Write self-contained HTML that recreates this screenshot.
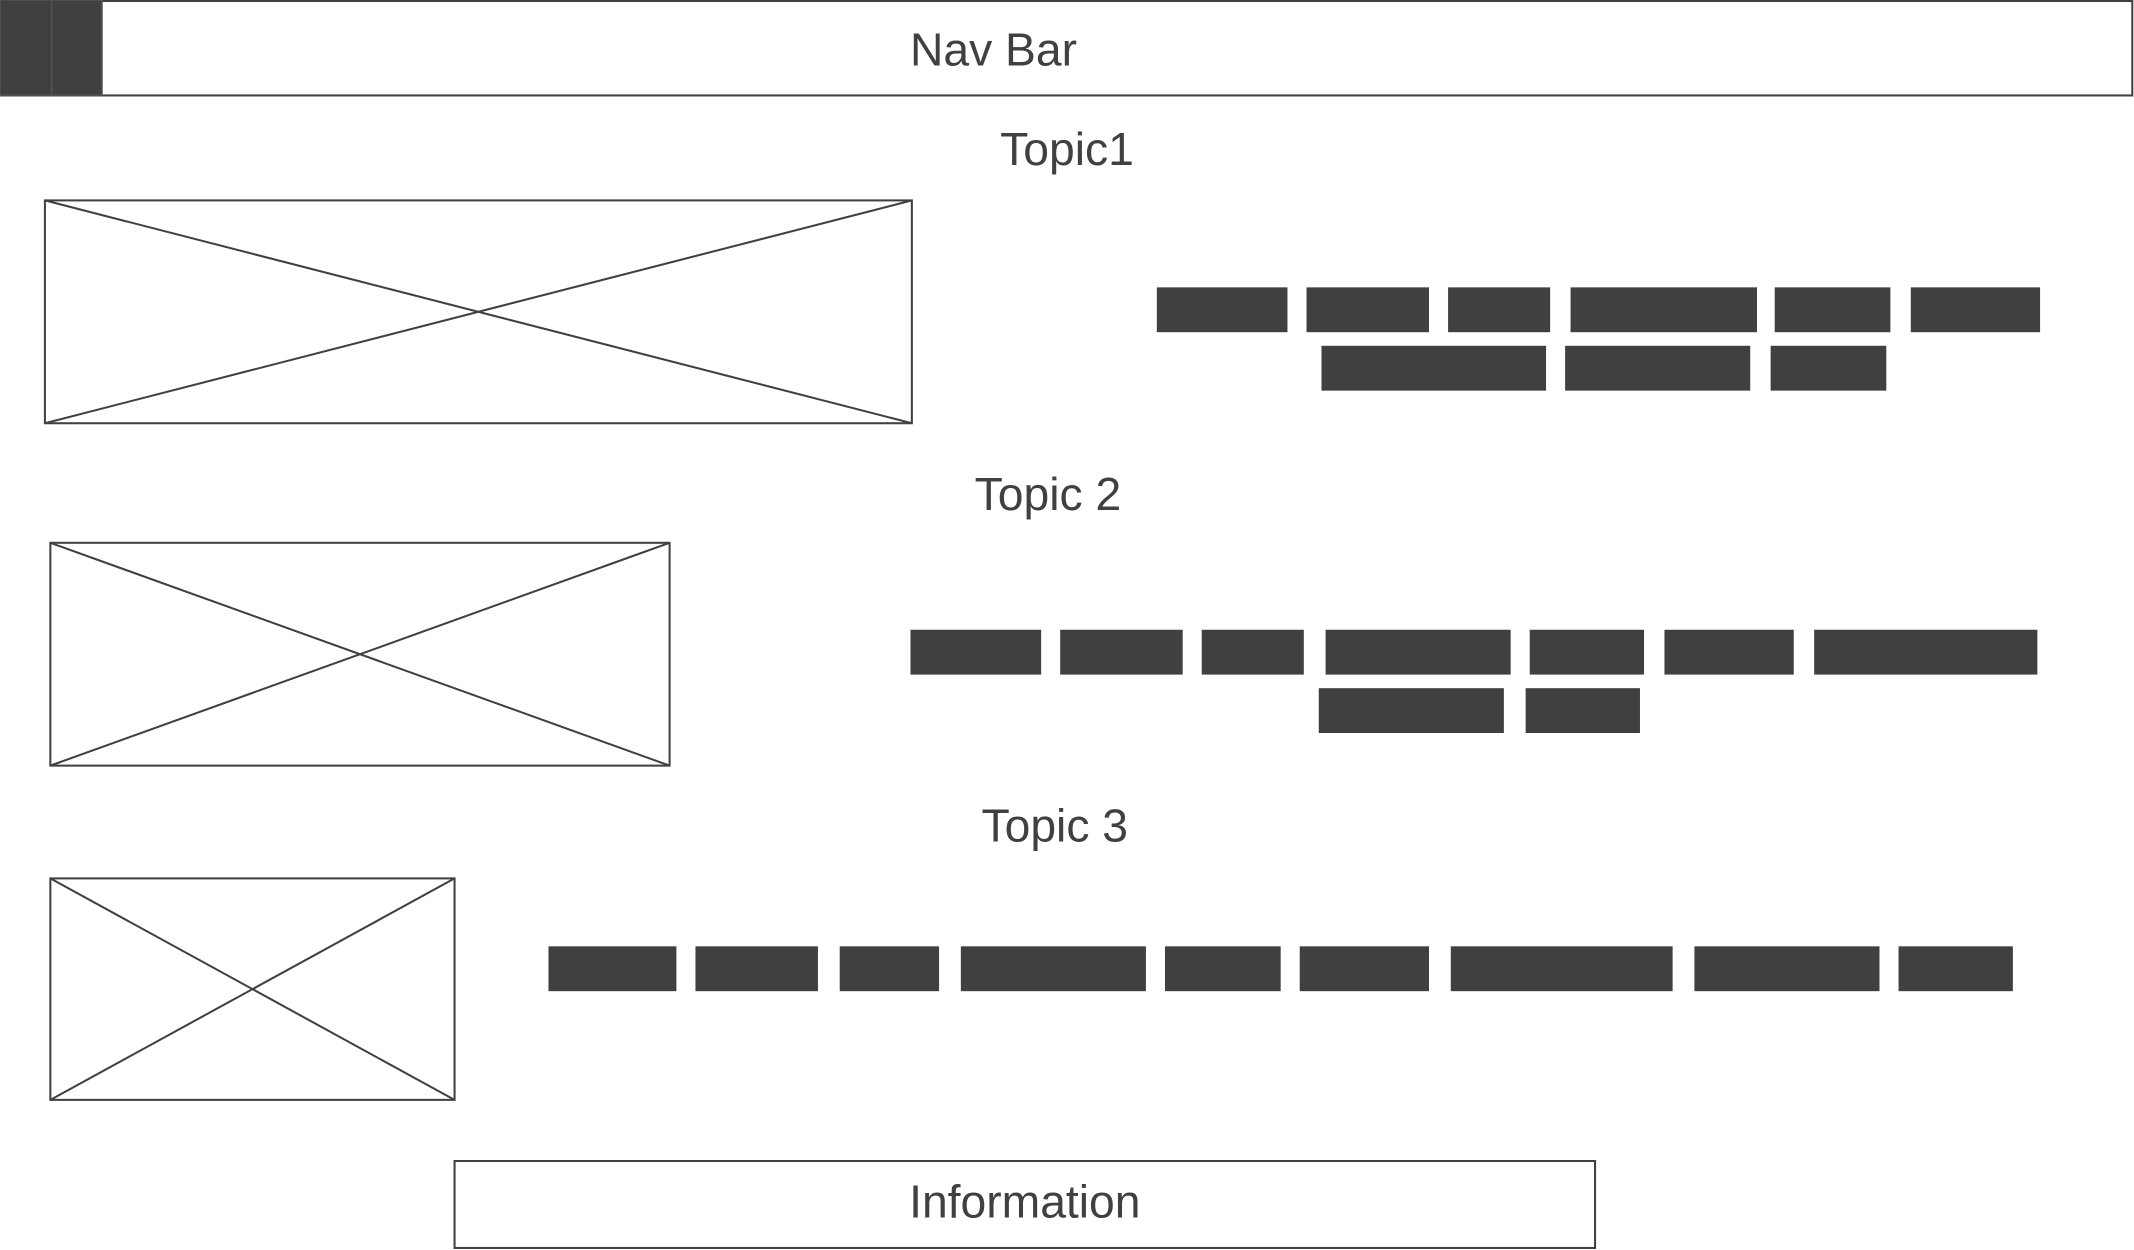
<!DOCTYPE html>
<html><head><meta charset="utf-8"><style>
html,body{margin:0;padding:0;background:#fff;}
svg{display:block;}
text{font-family:"Liberation Sans",sans-serif;fill:#404040;font-size:34px;text-anchor:middle;dominant-baseline:central;}
</style></head><body>
<svg width="2134" height="1250" viewBox="0 0 1568 920" preserveAspectRatio="none">
<g transform="translate(0,1.5)">
<g>
<rect x="0.75" y="-0.75" width="1566" height="69.5" fill="#fff" stroke="#404040" stroke-width="1.5"/>
<rect x="0" y="-1.5" width="38" height="70" fill="#404040" stroke="#555" stroke-width="1"/>
<rect x="38" y="-1.5" width="37" height="70" fill="#404040" stroke="#555" stroke-width="1"/>
<text x="730" y="35">Nav Bar</text>
</g>
<text x="784" y="108">Topic1</text>
<text x="770" y="362">Topic 2</text>
<text x="775" y="606">Topic 3</text>
<g fill="none" stroke="#404040" stroke-width="1.5">
<g><rect x="33" y="146" width="637" height="164"/><line x1="33" y1="146" x2="670" y2="310"/><line x1="33" y1="310" x2="670" y2="146"/></g>
<g><rect x="37" y="398" width="455" height="164"/><line x1="37" y1="398" x2="492" y2="562"/><line x1="37" y1="562" x2="492" y2="398"/></g>
<g><rect x="37" y="645" width="297" height="163"/><line x1="37" y1="645" x2="334" y2="808"/><line x1="37" y1="808" x2="334" y2="645"/></g>
</g>
<g fill="#404040">
<rect x="850" y="210" width="96" height="33"/><rect x="960" y="210" width="90" height="33"/><rect x="1064" y="210" width="75" height="33"/><rect x="1154" y="210" width="137" height="33"/><rect x="1304" y="210" width="85" height="33"/><rect x="1404" y="210" width="95" height="33"/>
<rect x="971" y="253" width="165" height="33"/><rect x="1150" y="253" width="136" height="33"/><rect x="1301" y="253" width="85" height="33"/>
</g>
<g fill="#404040">
<rect x="669" y="462" width="96" height="33"/><rect x="779" y="462" width="90" height="33"/><rect x="883" y="462" width="75" height="33"/><rect x="974" y="462" width="136" height="33"/><rect x="1124" y="462" width="84" height="33"/><rect x="1223" y="462" width="95" height="33"/><rect x="1333" y="462" width="164" height="33"/>
<rect x="969" y="505" width="136" height="33"/><rect x="1121" y="505" width="84" height="33"/>
</g>
<g fill="#404040">
<rect x="403" y="695" width="94" height="33"/><rect x="511" y="695" width="90" height="33"/><rect x="617" y="695" width="73" height="33"/><rect x="706" y="695" width="136" height="33"/><rect x="856" y="695" width="85" height="33"/><rect x="955" y="695" width="95" height="33"/><rect x="1066" y="695" width="163" height="33"/><rect x="1245" y="695" width="136" height="33"/><rect x="1395" y="695" width="84" height="33"/>
</g>
<g>
<rect x="334" y="853" width="838" height="64" fill="#fff" stroke="#404040" stroke-width="1.5"/>
<text x="753" y="883">Information</text>
</g>
</g>
</svg>
</body></html>
